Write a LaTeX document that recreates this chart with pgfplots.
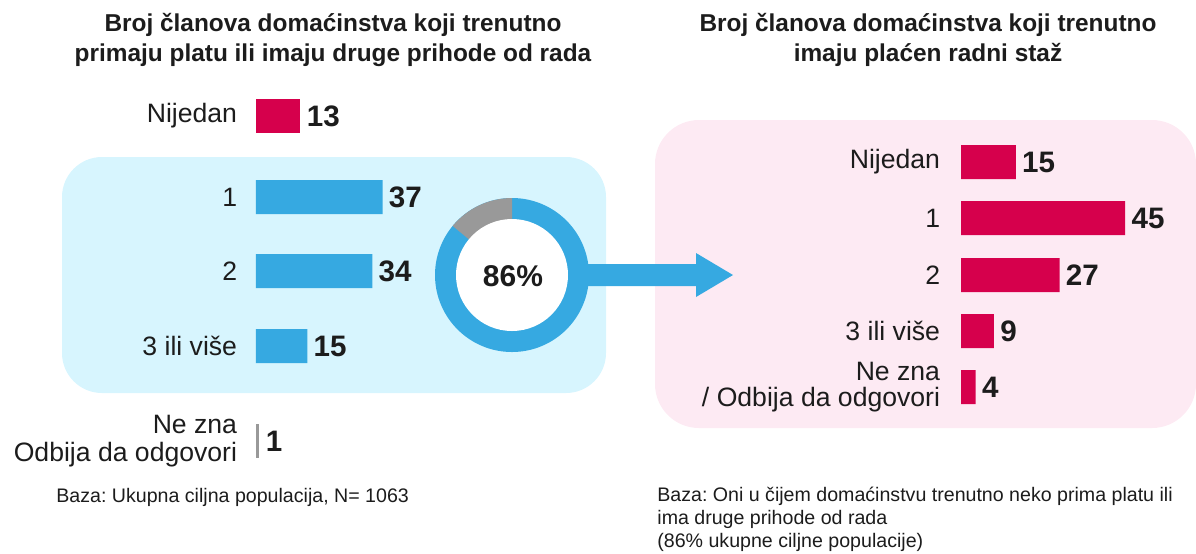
\documentclass[border=0pt]{standalone}
\usepackage{pgfplots}
\pgfplotsset{compat=1.18}
\usepackage{fontspec}
\setmainfont{Liberation Sans}
\frenchspacing
\definecolor{barRed}{RGB}{214,0,76}
\definecolor{barBlue}{RGB}{54,169,225}
\definecolor{barGray}{RGB}{153,153,153}
\definecolor{boxBlue}{RGB}{215,245,254}
\definecolor{boxPink}{RGB}{253,234,243}
\definecolor{ink}{RGB}{28,28,28}

% 1 px of the reference = 0.5pt
\pgfplotsset{
  barpanel/.style={
    scale only axis, height=276.5pt, anchor=north west,
    xbar, xmin=0, ymin=0, ymax=553, y dir=reverse,
    bar width=17pt, clip=false,
    axis line style={draw=none}, tick style={draw=none},
    xtick=\empty,
    yticklabel style={font=\fontsize{13.3}{14}\selectfont, align=right,
      inner sep=0pt, xshift=-5pt, text=ink},
    nodes near coords,
    nodes near coords style={font=\fontsize{14.8}{14}\selectfont\bfseries,
      text=ink, inner sep=3pt},
    /pgf/number format/assume math mode=true,
  }
}

\begin{document}
\begin{tikzpicture}
\path[use as bounding box] (0,0) rectangle (598pt,-276.5pt);
\pgfmathsetmacro{\share}{86}
\pgfmathsetmacro{\gapend}{90+(100-\share)*3.6}

% backdrop: boxes, donut, arrow, titles, notes (pixel coordinates)
\begin{axis}[at={(0pt,0pt)}, anchor=north west, scale only axis,
  width=598pt, height=276.5pt, xmin=0, xmax=1196, ymin=0, ymax=553,
  y dir=reverse, hide axis, clip=false]
  \fill[boxBlue, rounded corners=20pt] (axis cs:62,157) rectangle (axis cs:606,393);
  \fill[boxPink, rounded corners=22pt] (axis cs:655,120) rectangle (axis cs:1196,428);
  \fill[barBlue] (axis cs:580,264) -- (axis cs:696,264) -- (axis cs:696,253)
    -- (axis cs:733,275) -- (axis cs:696,297) -- (axis cs:696,286)
    -- (axis cs:580,286) -- cycle;
  \fill[barBlue] (axis cs:512,275) circle[radius=38.5pt];
  \fill[barGray] (axis cs:512,275) -- ++(90:38.5pt)
    arc[start angle=90, end angle=\gapend, radius=38.5pt] -- cycle;
  \fill[white] (axis cs:512,275) circle[radius=28pt];
  \node[font=\fontsize{15}{15}\selectfont\bfseries, text=ink] at (axis cs:513,276) {86\%};

  \node[font=\fontsize{12.2}{15}\selectfont\bfseries, align=center, text=ink]
    at (axis cs:333,40) {Broj članova domaćinstva koji trenutno\\primaju platu ili imaju druge prihode od rada};
  \node[font=\fontsize{12.2}{15}\selectfont\bfseries, align=center, text=ink]
    at (axis cs:928,40) {Broj članova domaćinstva koji trenutno\\imaju plaćen radni staž};

  \node[font=\fontsize{9.8}{11.5}\selectfont, anchor=west, inner sep=0pt, text=ink]
    at (axis cs:56,497) {Baza: Ukupna ciljna populacija, N= 1063};
  \node[font=\fontsize{9.8}{11.5}\selectfont, anchor=north west, align=left, inner sep=0pt, text=ink]
    at (axis cs:657,487) {Baza: Oni u čijem domaćinstvu trenutno neko prima platu ili\\ima druge prihode od rada\\(86\% ukupne ciljne populacije)};
\end{axis}

% left bars
\begin{axis}[barpanel, at={(128pt,0pt)}, width=171pt, xmax=100,
  ytick={116,197,271,346,441},
  yticklabels={Nijedan,1,2,3 ili više,{Ne zna\\Odbija da odgovori}}]
  \addplot[fill=barRed, draw=none, bar shift=0pt] coordinates {(13,116)};
  \addplot[fill=barBlue, draw=none, bar shift=0pt] coordinates {(37,197) (34,271) (15,346)};
  \addplot[fill=barGray, draw=none, bar shift=0pt] coordinates {(1,441)};
\end{axis}

% right bars
\begin{axis}[barpanel, at={(480.5pt,0pt)}, width=109.5pt, xmax=60,
  yticklabel style={font=\fontsize{13.3}{13}\selectfont, xshift=-1pt},
  ytick={162,218,275,331,387},
  yticklabels={Nijedan,1,2,3 ili više,{Ne zna\\/ Odbija da odgovori}}]
  \addplot[fill=barRed, draw=none, bar shift=0pt] coordinates {(15,162) (45,218) (27,275) (9,331) (4,387)};
\end{axis}
\end{tikzpicture}
\end{document}
